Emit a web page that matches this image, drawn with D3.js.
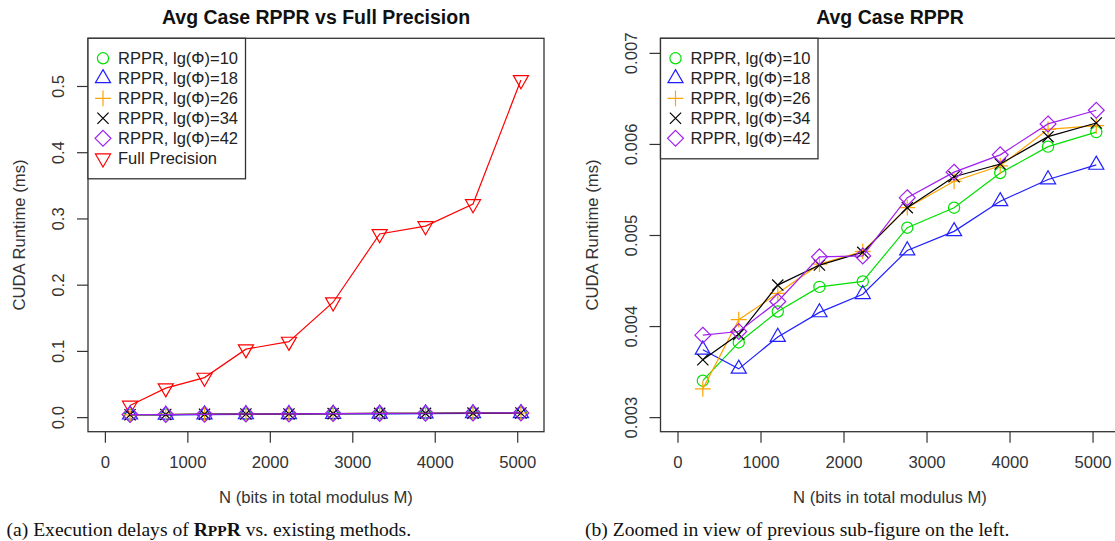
<!DOCTYPE html>
<html>
<head>
<meta charset="utf-8">
<script src="https://cdn.jsdelivr.net/npm/d3@7"></script>
<style>
  body { margin: 0; background: #fff; }
  text { font-family: "Liberation Sans", Arial, sans-serif; }
  .caption { font-family: "Liberation Serif", "DejaVu Serif", serif; }
</style>
</head>
<body>
<svg id="chart" width="1115" height="541"></svg>
<script>
// N (bits in total modulus M)
const nBits = [305, 738, 1208, 1710, 2232, 2768, 3332, 3888, 4464, 5045];

// CUDA runtime (ms)
const rppr10 = [0.00340, 0.00382, 0.00416, 0.00443, 0.00449, 0.00508, 0.00530, 0.00568, 0.00597, 0.00613];
const rppr18 = [0.00374, 0.00353, 0.00388, 0.00415, 0.00435, 0.00483, 0.00504, 0.00537, 0.00561, 0.00577];
const rppr26 = [0.00331, 0.00407, 0.00436, 0.00468, 0.00482, 0.00530, 0.00559, 0.00576, 0.00616, 0.00620];
const rppr34 = [0.00363, 0.00391, 0.00445, 0.00467, 0.00481, 0.00530, 0.00564, 0.00578, 0.00608, 0.00623];
const rppr42 = [0.00390, 0.00394, 0.00427, 0.00476, 0.00477, 0.00541, 0.00569, 0.00588, 0.00622, 0.00637];
const fullPrecision = [0.0175, 0.0437, 0.0597, 0.1026, 0.114, 0.1735, 0.2765, 0.2885, 0.3217, 0.509];

const xTicks = [0, 1000, 2000, 3000, 4000, 5000];
const leftYTicks = [0, 0.1, 0.2, 0.3, 0.4, 0.5];
const rightYTicks = [0.003, 0.004, 0.005, 0.006, 0.007];

const svg = d3.select("#chart");
const s = 5.6; // R symbol radius

// R-like plotting symbols
const shapes = {
  circle: () => { const p = d3.path(); p.arc(0, 0, s, 0, 2 * Math.PI); return p.toString(); },
  triUp: () => `M0,${-1.555 * s}L${1.347 * s},${0.778 * s}L${-1.347 * s},${0.778 * s}Z`,
  triDown: () => `M0,${1.555 * s}L${1.347 * s},${-0.778 * s}L${-1.347 * s},${-0.778 * s}Z`,
  plus: () => { const d = 1.414 * s; return `M${-d},0L${d},0M0,${-d}L0,${d}`; },
  cross: () => `M${-s},${-s}L${s},${s}M${-s},${s}L${s},${-s}`,
  diamond: () => { const d = 1.414 * s; return `M0,${-d}L${d},0L0,${d}L${-d},0Z`; }
};

const rpprSeries = [
  { name: "RPPR, lg(Φ)=10", values: rppr10, color: "#00e000", shape: "circle" },
  { name: "RPPR, lg(Φ)=18", values: rppr18, color: "#2020ff", shape: "triUp" },
  { name: "RPPR, lg(Φ)=26", values: rppr26, color: "#ffa500", shape: "plus" },
  { name: "RPPR, lg(Φ)=34", values: rppr34, color: "#000000", shape: "cross" },
  { name: "RPPR, lg(Φ)=42", values: rppr42, color: "#a020f0", shape: "diamond" }
];
const fullSeries = { name: "Full Precision", values: fullPrecision, color: "#ff0000", shape: "triDown" };

// R-style 4% padding on each side
const pad = (lo, hi) => [lo - 0.04 * (hi - lo), hi + 0.04 * (hi - lo)];

let drawPanel = (opt) => {
  const g = svg.append("g");
  const x = d3.scaleLinear().domain(pad(0, 5120)).range([opt.left, opt.right]);
  const y = d3.scaleLinear().domain(pad(opt.ylim[0], opt.ylim[1])).range([opt.bottom, opt.top]);

  // title
  g.append("text")
    .attr("x", (opt.left + opt.right) / 2)
    .attr("y", 24)
    .attr("text-anchor", "middle")
    .attr("font-weight", "bold")
    .attr("font-size", 19.5)
    .attr("fill", "#111")
    .text(opt.title);

  // x axis
  const xAxis = g.append("g")
    .attr("transform", `translate(0,${opt.bottom})`)
    .call(d3.axisBottom(x).tickValues(xTicks).tickSize(11).tickPadding(13).tickFormat(d3.format("d")));
  xAxis.select(".domain").remove();
  xAxis.selectAll("line").attr("stroke", "#333").attr("stroke-width", 1.2);
  xAxis.selectAll("text").attr("font-size", 16.7).attr("fill", "#333").attr("font-family", null);

  // y axis with rotated labels
  const yAxis = g.append("g")
    .attr("transform", `translate(${opt.left},0)`)
    .call(d3.axisLeft(y).tickValues(opt.yTicks).tickSize(11).tickFormat(opt.yFmt));
  yAxis.select(".domain").remove();
  yAxis.selectAll("line").attr("stroke", "#333").attr("stroke-width", 1.2);
  yAxis.selectAll("text")
    .attr("transform", "rotate(-90)")
    .attr("x", 0).attr("y", -24).attr("dy", null)
    .attr("text-anchor", "middle")
    .attr("font-size", 16.7).attr("fill", "#333").attr("font-family", null);

  // axis titles
  g.append("text")
    .attr("x", (opt.left + opt.right) / 2)
    .attr("y", 502.5)
    .attr("text-anchor", "middle")
    .attr("font-size", 16.7)
    .attr("fill", "#333")
    .text("N (bits in total modulus M)");
  g.append("text")
    .attr("transform", `translate(${opt.left - 63},${(opt.top + opt.bottom) / 2}) rotate(-90)`)
    .attr("text-anchor", "middle")
    .attr("font-size", 16.7)
    .attr("fill", "#333")
    .text("CUDA Runtime (ms)");

  // series
  const line = d3.line().x((d, i) => x(nBits[i])).y((d) => y(d));
  opt.series.forEach((sr) => {
    g.append("path")
      .attr("d", line(sr.values))
      .attr("fill", "none")
      .attr("stroke", sr.color)
      .attr("stroke-width", 1.2);
    g.selectAll(null)
      .data(sr.values)
      .enter()
      .append("path")
      .attr("transform", (d, i) => `translate(${x(nBits[i])},${y(d)})`)
      .attr("d", shapes[sr.shape]())
      .attr("fill", "none")
      .attr("stroke", sr.color)
      .attr("stroke-width", 1.2);
  });

  // box
  g.append("rect")
    .attr("x", opt.left).attr("y", opt.top)
    .attr("width", opt.right - opt.left).attr("height", opt.bottom - opt.top)
    .attr("fill", "none").attr("stroke", "#333").attr("stroke-width", 1.3);

  // legend
  const rows = opt.legend;
  const lg = g.append("g").attr("transform", `translate(${opt.left},${opt.top})`);
  lg.append("rect")
    .attr("width", 157.5).attr("height", rows.length * 20 + 20.5)
    .attr("fill", "#fff").attr("stroke", "#333").attr("stroke-width", 1.3);
  rows.forEach((sr, i) => {
    const ry = 20 + i * 20;
    lg.append("path")
      .attr("transform", `translate(15,${ry})`)
      .attr("d", shapes[sr.shape]())
      .attr("fill", "none").attr("stroke", sr.color).attr("stroke-width", 1.2);
    lg.append("text")
      .attr("x", 30).attr("y", ry + 6)
      .attr("font-size", 16.5).attr("fill", "#222")
      .text(sr.name);
  });
};

// (a) full plot: red first, RPPR series drawn over it
drawPanel({
  left: 88, right: 544, top: 38.3, bottom: 431.7,
  ylim: [0, 0.55], yTicks: leftYTicks, yFmt: d3.format(".1f"),
  title: "Avg Case RPPR vs Full Precision",
  series: [fullSeries].concat(rpprSeries),
  legend: rpprSeries.concat([fullSeries])
});

// (b) zoomed in
drawPanel({
  left: 660.5, right: 1119.5, top: 38.3, bottom: 431.7,
  ylim: [0.003, 0.007], yTicks: rightYTicks, yFmt: d3.format(".3f"),
  title: "Avg Case RPPR",
  series: rpprSeries,
  legend: rpprSeries
});

// captions
const capA = svg.append("text").attr("class", "caption").attr("x", 6.5).attr("y", 536).attr("font-size", 19.6).attr("fill", "#111");
capA.append("tspan").text("(a) Execution delays of ");
capA.append("tspan").attr("font-weight", "bold").text("R");
capA.append("tspan").attr("font-weight", "bold").attr("font-size", 15.4).text("PP");
capA.append("tspan").attr("font-weight", "bold").text("R");
capA.append("tspan").text(" vs. existing methods.");

svg.append("text").attr("class", "caption").attr("x", 585).attr("y", 536).attr("font-size", 19.6).attr("fill", "#111")
  .text("(b) Zoomed in view of previous sub-figure on the left.");
</script>
</body>
</html>
